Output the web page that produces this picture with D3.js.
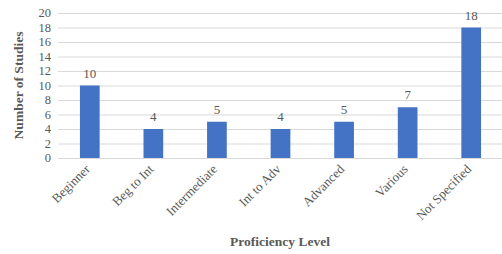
<!DOCTYPE html>
<html>
<head>
<meta charset="utf-8">
<script src="https://cdn.jsdelivr.net/npm/d3@7"></script>
<style>
  body { margin: 0; background: #fff; }
  text { font-family: "Liberation Serif", "Times New Roman", serif; fill: #595959; }
</style>
</head>
<body>
<svg id="chart" width="502" height="254"></svg>
<script>
// data
var levels = ["Beginner", "Beg to Int", "Intermediate", "Int to Adv", "Advanced", "Various", "Not Specified"];
var studies = [10, 4, 5, 4, 5, 7, 18];
var yTicks = [0, 2, 4, 6, 8, 10, 12, 14, 16, 18, 20];

var svg = d3.select("#chart");
// note: "top" is a window global, so use plot* names
var plotLeft = 58, plotRight = 503, plotTop = 13, plotBottom = 158;

var x = d3.scaleBand()
    .domain(levels)
    .range([plotLeft, plotRight])
    .paddingInner(0.69)
    .paddingOuter(0.345);

var y = d3.scaleLinear()
    .domain([0, 20])
    .range([plotBottom, plotTop]);

// gridlines
svg.append("g").selectAll("line")
    .data(yTicks)
    .enter().append("line")
    .attr("x1", plotLeft)
    .attr("x2", 502)
    .attr("y1", function(d){ return y(d) + 0.5; })
    .attr("y2", function(d){ return y(d) + 0.5; })
    .style("stroke", "#d9d9d9")
    .style("stroke-width", 1);

// y tick labels
svg.append("g").selectAll("text")
    .data(yTicks)
    .enter().append("text")
    .attr("x", 51)
    .attr("y", function(d){ return y(d) + 4; })
    .attr("text-anchor", "end")
    .style("font-size", "12.5px")
    .text(function(d){ return d; });

// bars
var data = levels.map(function(d, i){ return {level: d, value: studies[i]}; });

svg.append("g").selectAll("rect")
    .data(data)
    .enter().append("rect")
    .attr("x", function(d){ return x(d.level); })
    .attr("width", x.bandwidth())
    .attr("y", function(d){ return y(d.value); })
    .attr("height", function(d){ return y(0) - y(d.value); })
    .style("fill", "#4472c4");

// value labels
svg.append("g").selectAll("text")
    .data(data)
    .enter().append("text")
    .attr("x", function(d){ return x(d.level) + x.bandwidth() / 2; })
    .attr("y", function(d){ return y(d.value) - 8; })
    .attr("text-anchor", "middle")
    .style("font-size", "13px")
    .text(function(d){ return d.value; });

// x labels, rotated
svg.append("g").selectAll("text")
    .data(levels)
    .enter().append("text")
    .attr("text-anchor", "end")
    .attr("transform", function(d){
        var cx = x(d) + x.bandwidth() / 2 + 1;
        return "translate(" + cx + ",170) rotate(-45)";
    })
    .style("font-size", "13px")
    .text(function(d){ return d; });

// axis titles
svg.append("text")
    .attr("transform", "translate(23," + ((plotTop + plotBottom) / 2) + ") rotate(-90)")
    .attr("text-anchor", "middle")
    .style("font-size", "13.5px")
    .style("font-weight", "bold")
    .text("Number of Studies");

svg.append("text")
    .attr("x", 280)
    .attr("y", 246)
    .attr("text-anchor", "middle")
    .style("font-size", "13.5px")
    .style("font-weight", "bold")
    .text("Proficiency Level");
</script>
</body>
</html>
